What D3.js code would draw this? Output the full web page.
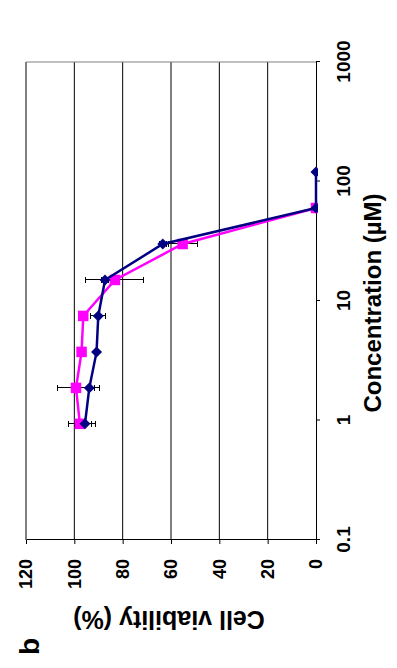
<!DOCTYPE html>
<html>
<head>
<meta charset="utf-8">
<script src="https://cdn.jsdelivr.net/npm/d3@7"></script>
<style>
  body { margin: 0; background: #fff; }
  svg { display: block; font-family: 'Liberation Sans', Arial, sans-serif; }
  .axis path, .axis line { stroke: #000; stroke-width: 1; }
  .axis text { font-size: 18px; font-weight: bold; fill: #000; }
  .grid { stroke: #000; stroke-width: 1; }
  .err { stroke: #000; stroke-width: 1; fill: none; shape-rendering: crispEdges; }
  .title { font-size: 24px; font-weight: bold; fill: #000; }
</style>
</head>
<body>
<div id="chart"></div>
<script>
// Concentration (µM), doubling dilutions
const concentrations = [0.9375, 1.875, 3.75, 7.5, 15, 30, 60, 120];
// Cell viability (%) per series, with error bar half-widths
const viabilityBlue = [95.6, 93.8, 90.8, 90.1, 87.3, 63.4, 0, 0];
const errorBlue = [4.5, 4.4, 1, 3.2, 1.5, 1.5, 0, 0];
// pink series has no visible point at 120 µM
const viabilityPink = [97.7, 99.3, 97.0, 96.3, 83.2, 55.2, 0];
const errorPink = [4.8, 7.7, 1, 1.5, 12, 6, 0];
// Tick labels
const concTicks = [0.1, 1, 10, 100, 1000];
const viabilityTicks = [0, 20, 40, 60, 80, 100, 120];

class RotatedChart {
    constructor(_config) {
        this.config = {
            parentElement: _config.parentElement,
            svgWidth: _config.svgWidth || 397,
            svgHeight: _config.svgHeight || 668
        };
        this.initVis();
    }

    // The figure was printed sideways, so it is laid out landscape and turned -90deg
    margin = {top: 26, right: 62, bottom: 81, left: 128};

    initVis() {
        const vis = this;

        vis.svg = d3.select(vis.config.parentElement).append('svg')
            .attr('width', vis.config.svgWidth)
            .attr('height', vis.config.svgHeight);

        vis.svg.append('rect')
            .attr('width', vis.config.svgWidth)
            .attr('height', vis.config.svgHeight)
            .attr('fill', '#fff');

        // landscape frame: width = page height, height = page width
        vis.frameWidth = vis.config.svgHeight;
        vis.frameHeight = vis.config.svgWidth;

        vis.frame = vis.svg.append('g')
            .attr('transform', `translate(0, ${vis.config.svgHeight}) rotate(-90)`);

        vis.chartWidth = vis.frameWidth - vis.margin.left - vis.margin.right;
        vis.chartHeight = vis.frameHeight - vis.margin.top - vis.margin.bottom;

        vis.chart = vis.frame.append('g')
            .attr('transform', `translate(${vis.margin.left}, ${vis.margin.top})`);

        vis.xScale = d3.scaleLog()
            .domain([0.1, 1000])
            .range([0, vis.chartWidth]);

        vis.yScale = d3.scaleLinear()
            .domain([0, 120])
            .range([vis.chartHeight, 0]);

        vis.xAxis = d3.axisBottom(vis.xScale)
            .tickValues(concTicks)
            .tickFormat(d => String(d))
            .tickSize(4)
            .tickSizeOuter(0)
            .tickPadding(17);

        vis.yAxis = d3.axisLeft(vis.yScale)
            .tickValues(viabilityTicks)
            .tickSize(4)
            .tickSizeOuter(0)
            .tickPadding(15);

        vis.frame.append('defs').append('clipPath')
            .attr('id', 'plot-clip')
          .append('rect')
            .attr('x', vis.margin.left - 10)
            .attr('y', vis.margin.top - 10)
            .attr('width', vis.chartWidth + 20)
            .attr('height', vis.chartHeight + 12);
    }

    renderVis() {
        const vis = this;

        // Gridlines
        vis.chart.selectAll('.grid').data(viabilityTicks.filter(d => d > 0))
            .enter().append('line')
            .attr('class', 'grid')
            .attr('x1', 0)
            .attr('x2', vis.chartWidth)
            .attr('y1', d => vis.yScale(d))
            .attr('y2', d => vis.yScale(d));

        // Plot area border on the far side
        vis.chart.append('line')
            .attr('x1', vis.chartWidth).attr('x2', vis.chartWidth)
            .attr('y1', 0).attr('y2', vis.chartHeight)
            .attr('stroke', '#808080');

        vis.chart.append('g')
            .attr('class', 'axis')
            .attr('transform', `translate(0, ${vis.chartHeight})`)
            .call(vis.xAxis)
            .call(g => g.selectAll('text').style('font-size', '19px'));

        vis.chart.append('g')
            .attr('class', 'axis')
            .call(vis.yAxis);

        // Axis titles
        vis.chart.append('text')
            .attr('class', 'title')
            .attr('text-anchor', 'middle')
            .attr('x', vis.chartWidth / 2 - 2)
            .attr('y', vis.chartHeight + 65)
            .text('Concentration (\u00b5M)');

        vis.chart.append('text')
            .attr('class', 'title')
            .attr('text-anchor', 'middle')
            .attr('transform', `translate(-71, ${vis.chartHeight / 2 - 2}) rotate(-90)`)
            .style('font-size', '25px')
            .text('Cell viability (%)');

        vis.frame.append('text')
            .attr('x', 13)
            .attr('y', 39)
            .style('font-size', '28px')
            .style('font-weight', 'bold')
            .text('b');

        const series = [
            {key: 'pink', color: '#ff00ff', values: viabilityPink, errors: errorPink, symbol: d3.symbolSquare, size: 110, rotate: 0},
            {key: 'blue', color: '#000080', values: viabilityBlue, errors: errorBlue, symbol: d3.symbolSquare, size: 60, rotate: 45}
        ];

        const data = vis.frame.append('g')
            .attr('clip-path', 'url(#plot-clip)')
          .append('g')
            .attr('transform', `translate(${vis.margin.left}, ${vis.margin.top})`);

        // Error bars
        series.forEach(s => {
            const pts = s.values.map((v, i) => ({c: concentrations[i], v: v, e: s.errors[i]}))
                .filter(d => d.e > 0);
            data.selectAll(`.err-${s.key}`).data(pts)
                .enter().append('path')
                .attr('class', `err err-${s.key}`)
                .attr('d', d => {
                    const x = vis.xScale(d.c);
                    const y0 = vis.yScale(d.v - d.e);
                    const y1 = vis.yScale(d.v + d.e);
                    return `M${x},${y0}V${y1}M${x - 3},${y0}H${x + 3}M${x - 3},${y1}H${x + 3}`;
                });
        });

        const lineGenerator = d3.line()
            .x((d, i) => vis.xScale(concentrations[i]))
            .y(d => vis.yScale(d));

        series.forEach(s => {
            data.append('path')
                .attr('fill', 'none')
                .attr('stroke', s.color)
                .attr('stroke-width', 2.5)
                .attr('d', lineGenerator(s.values));

            data.selectAll(`.marker-${s.key}`).data(s.values)
                .enter().append('path')
                .attr('class', `marker-${s.key}`)
                .attr('fill', s.color)
                .attr('d', d3.symbol(s.symbol, s.size))
                .attr('transform', (d, i) => `translate(${vis.xScale(concentrations[i])}, ${vis.yScale(d)}) rotate(${s.rotate})`);
        });
    }
}

const chart = new RotatedChart({parentElement: '#chart'});
chart.renderVis();
</script>
</body>
</html>
